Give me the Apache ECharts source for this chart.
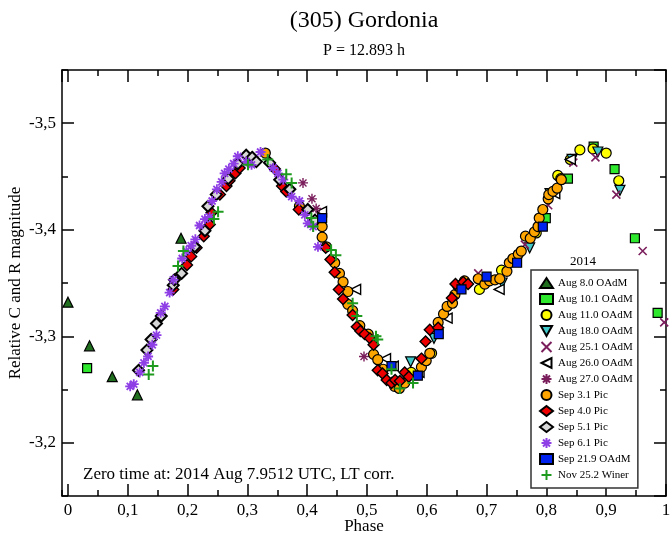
<!DOCTYPE html>
<html>
<head>
<meta charset="utf-8">
<script src="https://cdn.jsdelivr.net/npm/echarts@6/dist/echarts.min.js"></script>
<style>
  html, body { margin: 0; padding: 0; background: #fff; }
  #chart { width: 670px; height: 536px; }
</style>
</head>
<body>
<div id="chart"></div>
<script>
// phase / relative magnitude, one array per night
const aug08 = [[0.000,-3.332],[0.036,-3.291],[0.074,-3.262],[0.116,-3.245],[0.189,-3.392]];
const aug10 = [[0.032,-3.270],[0.799,-3.411],[0.836,-3.448],[0.879,-3.478],[0.914,-3.457],[0.948,-3.392],[0.986,-3.322]];
const aug11 = [[0.574,-3.266],[0.608,-3.284],[0.688,-3.344],[0.725,-3.362],[0.744,-3.372],[0.783,-3.397],[0.819,-3.451],[0.824,-3.448],[0.840,-3.466],[0.856,-3.475],[0.878,-3.476],[0.900,-3.472],[0.921,-3.446]];
const aug18 = [[0.573,-3.276],[0.612,-3.298],[0.726,-3.350],[0.772,-3.383],[0.806,-3.434],[0.843,-3.466],[0.886,-3.473],[0.923,-3.437]];
const aug25 = [[0.686,-3.359],[0.764,-3.386],[0.803,-3.423],[0.845,-3.463],[0.882,-3.468],[0.917,-3.433],[0.961,-3.380],[0.997,-3.313]];
const aug26 = [[0.424,-3.417],[0.481,-3.344],[0.531,-3.279],[0.544,-3.272],[0.587,-3.266],[0.634,-3.317],[0.721,-3.344],[0.814,-3.434],[0.840,-3.466]];
const aug27 = [[0.393,-3.444],[0.408,-3.429],[0.415,-3.420],[0.495,-3.281]];
const sep03 = [[0.330,-3.472],[0.387,-3.422],[0.425,-3.403],[0.425,-3.393],[0.432,-3.384],[0.446,-3.369],[0.454,-3.359],[0.460,-3.351],[0.468,-3.342],[0.468,-3.330],[0.476,-3.324],[0.488,-3.310],[0.502,-3.302],[0.511,-3.283],[0.518,-3.278],[0.527,-3.269],[0.546,-3.253],[0.554,-3.251],[0.563,-3.256],[0.591,-3.271],[0.599,-3.277],[0.605,-3.284],[0.619,-3.313],[0.628,-3.321],[0.634,-3.328],[0.643,-3.331],[0.647,-3.339],[0.652,-3.347],[0.663,-3.352],[0.686,-3.354],[0.697,-3.349],[0.705,-3.352],[0.714,-3.353],[0.722,-3.354],[0.734,-3.361],[0.738,-3.369],[0.744,-3.373],[0.753,-3.377],[0.758,-3.380],[0.765,-3.394],[0.773,-3.392],[0.780,-3.398],[0.786,-3.403],[0.788,-3.411],[0.794,-3.419],[0.803,-3.429],[0.804,-3.433],[0.811,-3.436],[0.818,-3.439],[0.825,-3.447]];
const sep04 = [[0.176,-3.344],[0.199,-3.367],[0.206,-3.375],[0.215,-3.383],[0.227,-3.394],[0.237,-3.405],[0.240,-3.416],[0.254,-3.433],[0.265,-3.441],[0.270,-3.446],[0.280,-3.453],[0.287,-3.458],[0.346,-3.457],[0.358,-3.441],[0.365,-3.436],[0.386,-3.419],[0.431,-3.383],[0.439,-3.372],[0.446,-3.360],[0.453,-3.344],[0.460,-3.335],[0.476,-3.320],[0.483,-3.309],[0.489,-3.305],[0.496,-3.302],[0.505,-3.298],[0.511,-3.292],[0.518,-3.268],[0.526,-3.265],[0.533,-3.259],[0.541,-3.256],[0.547,-3.259],[0.555,-3.258],[0.563,-3.266],[0.570,-3.262],[0.591,-3.279],[0.598,-3.295],[0.605,-3.306],[0.619,-3.308],[0.642,-3.336],[0.648,-3.349],[0.661,-3.351],[0.669,-3.349]];
const sep05 = [[0.118,-3.268],[0.132,-3.287],[0.139,-3.297],[0.148,-3.312],[0.156,-3.319],[0.176,-3.348],[0.178,-3.353],[0.190,-3.359],[0.212,-3.384],[0.229,-3.399],[0.234,-3.422],[0.248,-3.433],[0.268,-3.448],[0.284,-3.462],[0.298,-3.470],[0.308,-3.468],[0.315,-3.464],[0.337,-3.463],[0.354,-3.447],[0.371,-3.438],[0.401,-3.419],[0.413,-3.409]];
const sep06 = [[0.104,-3.253],[0.110,-3.255],[0.120,-3.266],[0.127,-3.275],[0.134,-3.281],[0.141,-3.292],[0.148,-3.301],[0.155,-3.322],[0.162,-3.328],[0.170,-3.341],[0.176,-3.353],[0.191,-3.373],[0.198,-3.380],[0.206,-3.385],[0.213,-3.391],[0.220,-3.404],[0.229,-3.410],[0.237,-3.412],[0.241,-3.427],[0.249,-3.438],[0.257,-3.445],[0.262,-3.453],[0.269,-3.457],[0.277,-3.462],[0.284,-3.469],[0.298,-3.464],[0.307,-3.461],[0.322,-3.473],[0.343,-3.458],[0.351,-3.453],[0.360,-3.447],[0.374,-3.431],[0.387,-3.427],[0.396,-3.414],[0.401,-3.406],[0.410,-3.403],[0.418,-3.384]];
const sep21 = [[0.425,-3.411],[0.541,-3.272],[0.585,-3.263],[0.620,-3.302],[0.658,-3.344],[0.700,-3.356],[0.751,-3.369],[0.794,-3.403]];
const nov25 = [[0.135,-3.264],[0.142,-3.272],[0.184,-3.366],[0.193,-3.380],[0.244,-3.410],[0.251,-3.417],[0.301,-3.461],[0.334,-3.466],[0.365,-3.452],[0.374,-3.444],[0.407,-3.411],[0.410,-3.403],[0.440,-3.381],[0.448,-3.376],[0.476,-3.331],[0.483,-3.319],[0.515,-3.300],[0.518,-3.297],[0.541,-3.269],[0.555,-3.251],[0.577,-3.256]];

const FONT = 'Liberation Serif';
const X_MIN = -0.01, X_MAX = 1.0;
const Y_MIN = -3.55, Y_MAX = -3.15;

const CROSS = 'path://M0,0L10,10M10,0L0,10';
const PLUS = 'path://M5,0L5,10M0,5L10,5';
const STAR = 'path://M5,0L5,10M0,5L10,5M1.5,1.5L8.5,8.5M8.5,1.5L1.5,8.5';
const LEFT_TRI = 'path://M0,5L10,0L10,10Z';
const DOWN_TRI = 'path://M0,0L10,0L5,9Z';

function pts(name, data, symbol, size, fill, border, bw) {
  return {
    name: name,
    type: 'scatter',
    data: data,
    symbol: symbol,
    symbolSize: size,
    itemStyle: { color: fill, borderColor: border, borderWidth: bw, opacity: 1 },
    emphasis: { disabled: true }
  };
}

const series = [
  pts('Aug 8.0 OAdM', aug08, 'triangle', 10, '#1f6f1f', '#000', 1.2),
  pts('Aug 10.1 OAdM', aug10, 'rect', 9, '#2ee82e', '#000', 1.2),
  pts('Aug 11.0 OAdM', aug11, 'circle', 10, '#ffff00', '#000', 1.2),
  pts('Aug 18.0 OAdM', aug18, DOWN_TRI, 10, '#40c8c8', '#000', 1.2),
  pts('Aug 25.1 OAdM', aug25, CROSS, 8, '#7a1e5c', '#7a1e5c', 1.6),
  pts('Aug 26.0 OAdM', aug26, LEFT_TRI, 10, '#ffffff', '#000', 1.4),
  pts('Aug 27.0 OAdM', aug27, STAR, 10, '#7a1e5c', '#7a1e5c', 1.4),
  pts('Sep 3.1 Pic', sep03, 'circle', 10, '#ffa500', '#000', 1.2),
  pts('Sep 4.0 Pic', sep04, 'diamond', 11, '#ee0000', '#000', 1.4),
  pts('Sep 5.1 Pic', sep05, 'diamond', 11, '#d8d8d8', '#000', 2),
  pts('Sep 6.1 Pic', sep06, STAR, 10, '#8f3fe6', '#8f3fe6', 1.8),
  pts('Sep 21.9 OAdM', sep21, 'rect', 9, '#0022ee', '#000', 1.2),
  pts('Nov 25.2 Winer', nov25, PLUS, 11, '#1e9b1e', '#1e9b1e', 2)
];

const fmtX = v => {
  const r = Math.round(v * 10) / 10;
  return (r === 0 || r === 1) ? String(r) : r.toFixed(1).replace('.', ',');
};
const fmtY = v => (Math.round(v * 10) / 10).toFixed(1).replace('.', ',');

const lineStyle = { color: '#000', width: 1.5 };
const labelStyle = { fontFamily: FONT, fontSize: 17, color: '#000' };

function xAxisDef(pos, major, showLabel) {
  return {
    type: 'value', position: pos, min: X_MIN, max: X_MAX,
    splitNumber: major ? 10 : 20,
    minInterval: major ? 0.1 : 0.05, maxInterval: major ? 0.1 : 0.05,
    axisLine: { show: major, onZero: false, lineStyle: lineStyle },
    axisTick: { show: true, inside: true, length: major ? 12 : 6, lineStyle: lineStyle },
    axisLabel: showLabel ? Object.assign({ formatter: fmtX, margin: 6, showMinLabel: false }, labelStyle) : { show: false },
    splitLine: { show: false }
  };
}
function yAxisDef(pos, major, showLabel) {
  return {
    type: 'value', position: pos, inverse: true, min: Y_MIN, max: Y_MAX,
    splitNumber: major ? 4 : 8,
    minInterval: major ? 0.1 : 0.05, maxInterval: major ? 0.1 : 0.05,
    axisLine: { show: major, onZero: false, lineStyle: lineStyle },
    axisTick: { show: true, inside: true, length: major ? 12 : 6, lineStyle: lineStyle },
    axisLabel: showLabel ? Object.assign({ formatter: fmtY, margin: 6, showMinLabel: false, showMaxLabel: false }, labelStyle) : { show: false },
    splitLine: { show: false }
  };
}

const xAxes = [
  Object.assign(xAxisDef('bottom', true, true), {
    name: 'Phase', nameLocation: 'middle', nameGap: 22, nameMoveOverlap: false,
    nameTextStyle: { fontFamily: FONT, fontSize: 17, color: '#000' }
  }),
  xAxisDef('bottom', false, false),
  xAxisDef('top', true, false),
  xAxisDef('top', false, false)
];
const yAxes = [
  Object.assign(yAxisDef('left', true, true), {
    name: 'Relative C and R magnitude', nameLocation: 'middle', nameGap: 38, nameMoveOverlap: false,
    nameTextStyle: { fontFamily: FONT, fontSize: 17, color: '#000' }
  }),
  yAxisDef('left', false, false),
  yAxisDef('right', true, false),
  yAxisDef('right', false, false)
];

const chart = echarts.init(document.getElementById('chart'), null, { renderer: 'canvas' });
chart.setOption({
  animation: false,
  backgroundColor: '#fff',
  grid: { left: 62, right: 4, top: 70, bottom: 40, containLabel: false, outerBoundsMode: 'none' },
  xAxis: xAxes,
  yAxis: yAxes,
  legend: {
    orient: 'vertical',
    left: 531, top: 270,
    itemWidth: 13, itemHeight: 10, itemGap: 4,
    padding: [7, 5, 7, 8],
    borderColor: '#333', borderWidth: 1.5,
    backgroundColor: '#fff',
    selectedMode: false,
    textStyle: { fontFamily: FONT, fontSize: 11, color: '#000' },
    data: series.map(s => s.name)
  },
  graphic: [
    { type: 'text', x: 364, y: 21, style: { text: '(305) Gordonia', font: '24px "Liberation Serif"', fill: '#000', align: 'center', verticalAlign: 'middle' } },
    { type: 'text', x: 364, y: 51, style: { text: 'P = 12.893 h', font: '16px "Liberation Serif"', fill: '#000', align: 'center', verticalAlign: 'middle' } },
    { type: 'text', x: 83, y: 475, style: { text: 'Zero time at: 2014 Aug 7.9512 UTC, LT corr.', font: '17px "Liberation Serif"', fill: '#000', align: 'left', verticalAlign: 'middle' } },
    { type: 'text', x: 583, y: 262, style: { text: '2014', font: '13px "Liberation Serif"', fill: '#000', align: 'center', verticalAlign: 'middle' } }
  ],
  series: series
});
</script>
</body>
</html>
